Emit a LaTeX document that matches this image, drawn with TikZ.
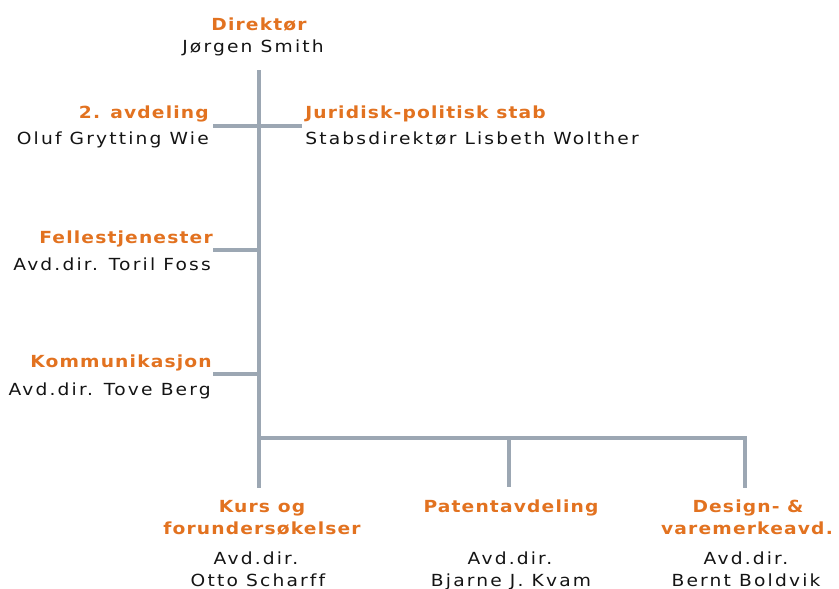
\documentclass[tikz,border=0pt]{standalone}
\usepackage{fontspec}
\newfontfamily\regf[LetterSpace=13,FakeStretch=1.12,Ligatures=NoCommon]{DejaVu Sans}
\newfontfamily\boldf[LetterSpace=7,FakeStretch=1.12,Ligatures=NoCommon]{DejaVu Sans}
\definecolor{orgorange}{RGB}{226,114,32}
\definecolor{orggray}{RGB}{156,167,179}
\definecolor{orgtext}{RGB}{20,20,20}
\begin{document}
\begin{tikzpicture}[x=0.75pt,y=-0.75pt,
  ttl/.style={font=\boldf\bfseries\fontsize{12.5}{14}\selectfont, text=orgorange, inner sep=0pt, anchor=base},
  nme/.style={font=\regf\fontsize{12.5}{14}\selectfont, text=orgtext, inner sep=0pt, anchor=base},
  conn/.style={draw=orggray, line width=3pt, line cap=butt, line join=miter}]
\useasboundingbox (0,0) rectangle (839,589);
% titles and names
\node[ttl] (dirT) at (259,30) {Direktør};
\node[nme] (dirN) at (253,52) {Jørgen Smith};
\node[ttl, anchor=base east] (avdT) at (209,118) {2. avdeling};
\node[nme, anchor=base east] (avdN) at (209,144) {Oluf Grytting Wie};
\node[ttl, anchor=base west] (jurT) at (305,118) {Juridisk-politisk stab};
\node[nme, anchor=base west] (jurN) at (305,144) {Stabsdirektør Lisbeth Wolther};
\node[ttl, anchor=base east] (felT) at (213,243) {Fellestjenester};
\node[nme, anchor=base east] (felN) at (211,270) {Avd.dir. Toril Foss};
\node[ttl, anchor=base east] (komT) at (212,367) {Kommunikasjon};
\node[nme, anchor=base east] (komN) at (211,395) {Avd.dir. Tove Berg};
\node[ttl] (kurT1) at (262,512) {Kurs og};
\node[ttl] (kurT2) at (262,534) {forundersøkelser};
\node[nme] (kurN1) at (256,564) {Avd.dir.};
\node[nme] (kurN2) at (258,586) {Otto Scharff};
\node[ttl] (patT) at (511,512) {Patentavdeling};
\node[nme] (patN1) at (510,564) {Avd.dir.};
\node[nme] (patN2) at (511,586) {Bjarne J. Kvam};
\node[ttl] (desT1) at (748,512) {Design- \&};
\node[ttl] (desT2) at (747,534) {varemerkeavd.};
\node[nme] (desN1) at (746,564) {Avd.dir.};
\node[nme] (desN2) at (746,586) {Bernt Boldvik};
% junction coordinates
\coordinate (top) at (259,70);
\coordinate (crossL) at (213,126);
\coordinate (crossR) at (302,126);
\coordinate (felL) at (213,250);
\coordinate (felJ) at (259,250);
\coordinate (komL) at (213,374);
\coordinate (komJ) at (259,374);
\coordinate (barL) at (259,438);
\coordinate (kurE) at (259,488);
\coordinate (patJ) at (509,438);
\coordinate (patE) at (509,487);
\coordinate (desE) at (745,488);
% connectors
\draw[conn] (top) -- (kurE);
\draw[conn] (crossL) -- (crossR);
\draw[conn] (felL) -- (felJ);
\draw[conn] (komL) -- (komJ);
\draw[conn] (barL) -| (desE);
\draw[conn] (patJ) -- (patE);
\end{tikzpicture}
\end{document}
